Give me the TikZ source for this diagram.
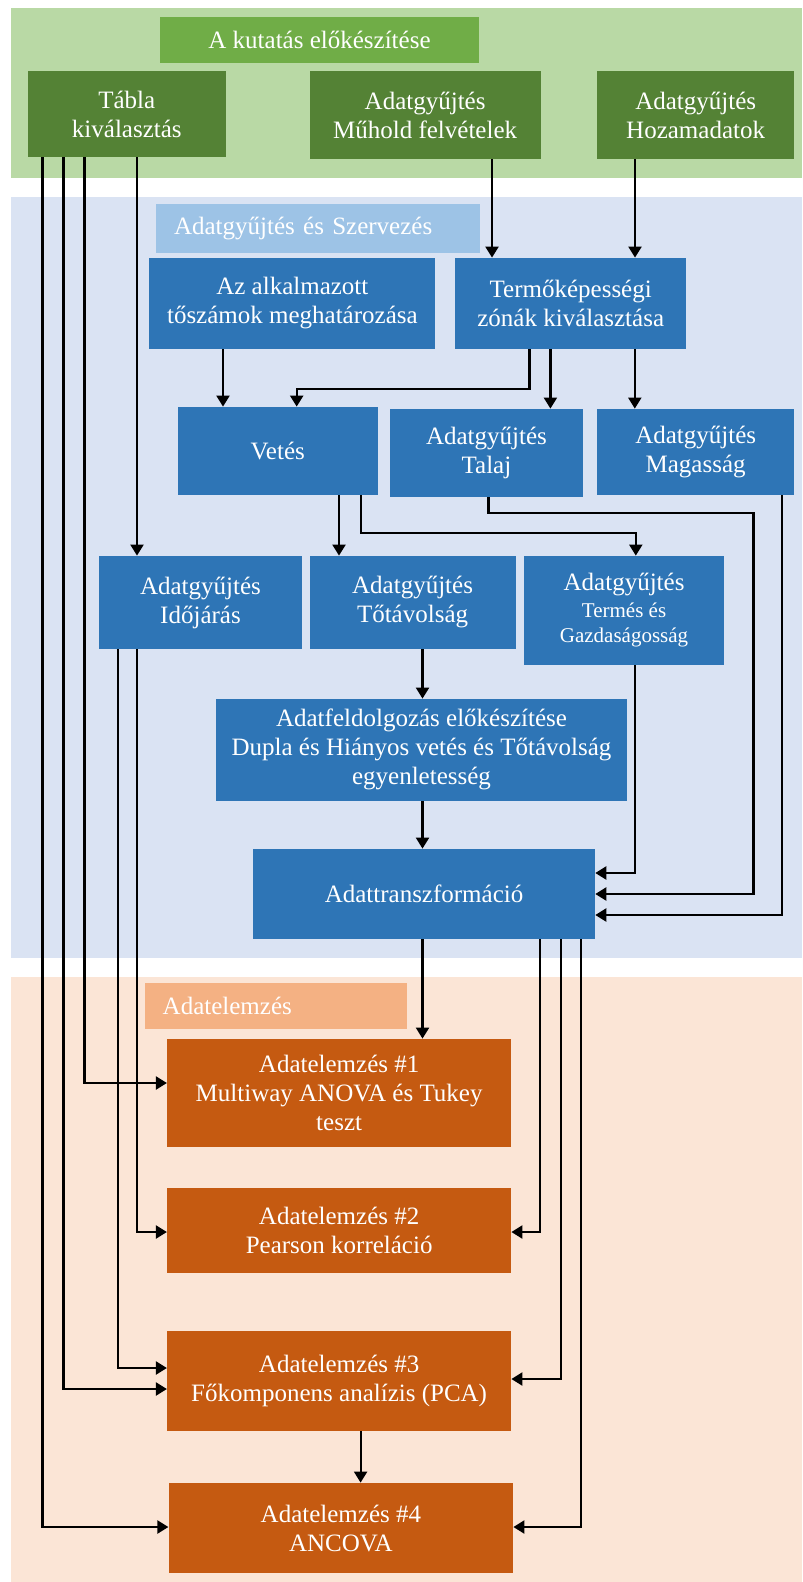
\documentclass[tikz,border=0pt]{standalone}
\usepackage{fontspec}
\setmainfont{Liberation Serif}
\usetikzlibrary{arrows.meta}
\definecolor{gband}{HTML}{B9D9A5}
\definecolor{gtitle}{HTML}{70AD47}
\definecolor{gbox}{HTML}{548235}
\definecolor{bband}{HTML}{DAE3F3}
\definecolor{btitle}{HTML}{9DC3E6}
\definecolor{bbox}{HTML}{2E75B6}
\definecolor{oband}{HTML}{FBE5D6}
\definecolor{otitle}{HTML}{F4B183}
\definecolor{obox}{HTML}{C55A11}
\newcommand{\mybox}[8][]{\node[boxnode,fill=#7,minimum width={(#5-#3)*0.5pt},minimum height={(#6-#4)*0.5pt},#1] (#2) at ({(#3+#5)/2},{(#4+#6)/2}) {#8};}
\begin{document}
\begin{tikzpicture}[x=0.5pt,y=-0.5pt,
  boxnode/.style={rectangle,inner sep=0pt,text=white,align=center,font=\fontsize{12.5}{14.5}\selectfont},
  lefttitle/.style={text width={(#1)*0.5pt},align=left,inner xsep=9pt},
  arr/.style={draw=black,line width=1.1pt,-{Triangle[length=5.5pt,width=6.5pt]}}]
\useasboundingbox (0,0) rectangle (802,1582);
\fill[white] (0,0) rectangle (802,1582);
\fill[gband] (11,8) rectangle (802,178);
\fill[bband] (11,197) rectangle (802,958);
\fill[oband] (11,977) rectangle (802,1582);
% green section
\mybox{gt}{160}{17}{479}{63}{gtitle}{A kutatás előkészítése}
\mybox{tabla}{28}{71}{225.6}{157}{gbox}{Tábla\\kiválasztás}
\mybox{muhold}{309.5}{71}{540.7}{159}{gbox}{Adatgyűjtés\\Műhold felvételek}
\mybox{hozam}{597.4}{71}{793.9}{159}{gbox}{Adatgyűjtés\\Hozamadatok}
% blue section
\mybox[lefttitle=288]{bt}{156}{204}{480}{253}{btitle}{\mbox{Adatgyűjtés és Szervezés}}
\mybox{alk}{149.4}{258}{435.3}{349}{bbox}{Az alkalmazott\\tőszámok meghatározása}
\mybox{termo}{455}{258}{686.4}{349}{bbox}{Termőképességi\\zónák kiválasztása}
\mybox{vetes}{178}{407}{377.5}{495}{bbox}{Vetés}
\mybox{talaj}{389.8}{409}{583}{497}{bbox}{Adatgyűjtés\\Talaj}
\mybox{magas}{597.4}{409}{793.9}{495}{bbox}{Adatgyűjtés\\Magasság}
\mybox{idojaras}{98.7}{556}{302.3}{649}{bbox}{Adatgyűjtés\\Időjárás}
\mybox{totav}{309.5}{556}{515.6}{649}{bbox}{Adatgyűjtés\\Tőtávolság}
\mybox{termes}{524.3}{556}{723.8}{665}{bbox}{Adatgyűjtés\\[-1pt]{\fontsize{10.5}{12}\selectfont Termés és}\\[-2pt]{\fontsize{10.5}{12}\selectfont Gazdaságosság}}
\mybox{feld}{216.4}{699}{626.6}{800.7}{bbox}{Adatfeldolgozás előkészítése\\Dupla és Hiányos vetés és Tőtávolság\\egyenletesség}
\mybox{transz}{253.2}{849}{594.9}{939}{bbox}{Adattranszformáció}
% orange section
\mybox[lefttitle=226]{ot}{144.8}{983}{406.6}{1029}{otitle}{\mbox{Adatelemzés}}
\mybox{a1}{167.3}{1039}{511}{1147}{obox}{Adatelemzés \#1\\Multiway ANOVA és Tukey\\teszt}
\mybox{a2}{167.3}{1188}{511}{1273}{obox}{Adatelemzés \#2\\Pearson korreláció}
\mybox{a3}{167.3}{1331}{511}{1431}{obox}{Adatelemzés \#3\\Főkomponens analízis (PCA)}
\mybox{a4}{168.8}{1483}{513}{1573}{obox}{Adatelemzés \#4\\ANCOVA}
% connectors
\draw[arr] (tabla.south -| 137,0) -- (idojaras.north -| 137,0);
\draw[arr] (tabla.south -| 84.4,0) -- (84.4,1083) -- (a1.west |- 0,1083);
\draw[arr] (tabla.south -| 63.4,0) -- (63.4,1389) -- (a3.west |- 0,1389);
\draw[arr] (tabla.south -| 42.5,0) -- (42.5,1527) -- (a4.west |- 0,1527);
\draw[arr] (muhold.south -| 492,0) -- (termo.north -| 492,0);
\draw[arr] (hozam.south -| 635,0) -- (termo.north -| 635,0);
\draw[arr] (alk.south -| 223,0) -- (vetes.north -| 223,0);
\draw[arr] (termo.south -| 529.4,0) -- (529.4,388.7) -- (296.7,388.7) -- (vetes.north -| 296.7,0);
\draw[arr] (termo.south -| 550.4,0) -- (talaj.north -| 550.4,0);
\draw[arr] (termo.south -| 634.8,0) -- (magas.north -| 634.8,0);
\draw[arr] (vetes.south -| 339,0) -- (totav.north -| 339,0);
\draw[arr] (vetes.south -| 360.6,0) -- (360.6,532.7) -- (635.8,532.7) -- (termes.north -| 635.8,0);
\draw[arr] (talaj.south -| 488.5,0) -- (488.5,513.3) -- (753.5,513.3) -- (753.5,894) -- (transz.east |- 0,894);
\draw[arr] (magas.south -| 781.6,0) -- (781.6,915) -- (transz.east |- 0,915);
\draw[arr] (termes.south -| 635,0) -- (635,873) -- (transz.east |- 0,873);
\draw[arr] (totav.south -| 422.5,0) -- (feld.north -| 422.5,0);
\draw[arr] (feld.south -| 422.5,0) -- (transz.north -| 422.5,0);
\draw[arr] (transz.south -| 422.5,0) -- (a1.north -| 422.5,0);
\draw[arr] (transz.south -| 540,0) -- (540,1232) -- (a2.east |- 0,1232);
\draw[arr] (transz.south -| 560.6,0) -- (560.6,1379) -- (a3.east |- 0,1379);
\draw[arr] (transz.south -| 581,0) -- (581,1527) -- (a4.east |- 0,1527);
\draw[arr] (idojaras.south -| 137,0) -- (137,1232) -- (a2.west |- 0,1232);
\draw[arr] (idojaras.south -| 117.6,0) -- (117.6,1368) -- (a3.west |- 0,1368);
\draw[arr] (a3.south -| 360.6,0) -- (a4.north -| 360.6,0);
\end{tikzpicture}
\end{document}
